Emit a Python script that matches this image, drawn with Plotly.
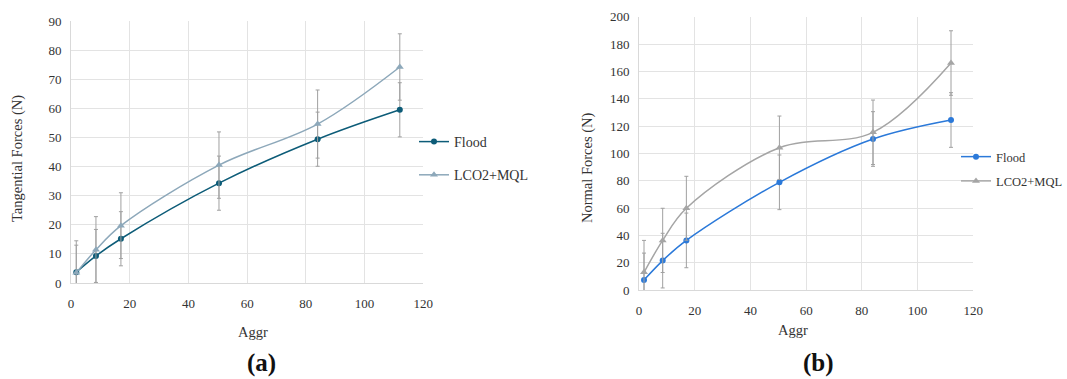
import plotly.graph_objects as go

# ---- data ----
aggr = [1.8, 8.5, 17, 50.4, 84, 112]

tan_flood = [3.7, 9.3, 15.2, 34.3, 49.4, 59.5]
tan_flood_err = [9.3, 9.1, 9.3, 9.3, 9.3, 9.3]
tan_lco2 = [3.5, 11.4, 19.7, 40.5, 54.6, 74.2]
tan_lco2_err = [11.0, 11.4, 11.3, 11.4, 11.7, 11.4]

nor_flood = [7.3, 21.5, 36.3, 78.8, 110.5, 124.4]
nor_flood_err = [19.7, 20.0, 20.0, 20.0, 20.0, 20.0]
nor_lco2 = [12.9, 36.3, 59.8, 104.1, 115.4, 166.1]
nor_lco2_err = [23.4, 23.5, 23.4, 23.2, 23.6, 23.6]

x_ticks = [0, 20, 40, 60, 80, 100, 120]

FONT = "Liberation Serif, DejaVu Serif, serif"
W, H = 1067, 379

c_flood_a = "#0D5C78"
c_lco2_a = "#8DA8BA"
c_flood_b = "#2B79D9"
c_lco2_b = "#A5A5A5"
c_err = "#A0A0A0"
c_grid = "#E3E3E3"

fig = go.Figure()

def add(x, y, err, color, symbol, size, name, xa, ya, legend):
    fig.add_trace(go.Scatter(
        x=x, y=y, name=name, mode="lines+markers",
        line=dict(color=color, width=1.5, shape="spline", smoothing=1.0),
        marker=dict(color=color, symbol=symbol, size=size),
        error_y=dict(type="data", array=err, visible=True, color=c_err,
                     thickness=1, width=2),
        xaxis=xa, yaxis=ya, legend=legend, legendgroup=name + legend,
        cliponaxis=True,
    ))

add(aggr, tan_flood, tan_flood_err, c_flood_a, "circle", 6, "Flood", "x", "y", "legend")
add(aggr, tan_lco2, tan_lco2_err, c_lco2_a, "triangle-up", 7, "LCO2+MQL", "x", "y", "legend")
add(aggr, nor_flood, nor_flood_err, c_flood_b, "circle", 6, "Flood", "x2", "y2", "legend2")
add(aggr, nor_lco2, nor_lco2_err, c_lco2_b, "triangle-up", 7, "LCO2+MQL", "x2", "y2", "legend2")

def px_x(p):
    return p / W

def px_y(p):
    return 1 - p / H

axis_common = dict(
    showgrid=True, gridcolor=c_grid, gridwidth=1,
    showline=True, linecolor="#D9D9D9", linewidth=1,
    zeroline=False, ticks="", tickfont=dict(family=FONT, size=13, color="#333333"),
    fixedrange=True, automargin=False,
)

fig.update_layout(
    width=W, height=H,
    margin=dict(l=0, r=0, t=0, b=0, autoexpand=False),
    paper_bgcolor="white", plot_bgcolor="white",
    font=dict(family=FONT, color="#333333"),
    xaxis=dict(domain=[px_x(71), px_x(423.3)], range=[0, 120], tickvals=x_ticks,
               anchor="y", ticklabelstandoff=8, **axis_common),
    yaxis=dict(domain=[px_y(283), px_y(21)], range=[0, 90], dtick=10,
               anchor="x", ticklabelstandoff=6, **axis_common),
    xaxis2=dict(domain=[px_x(639), px_x(973.3)], range=[0, 120], tickvals=x_ticks,
                anchor="y2", ticklabelstandoff=8, **axis_common),
    yaxis2=dict(domain=[px_y(290), px_y(16.7)], range=[0, 200], dtick=20,
                anchor="x2", ticklabelstandoff=6, **axis_common),
    legend=dict(x=px_x(414), y=px_y(126), xanchor="left", yanchor="top",
                font=dict(family=FONT, size=14, color="#333333"),
                tracegroupgap=12, itemwidth=30, bgcolor="rgba(0,0,0,0)"),
    legend2=dict(x=px_x(956), y=px_y(142), xanchor="left", yanchor="top",
                 font=dict(family=FONT, size=12.5, color="#333333"),
                 tracegroupgap=5, itemwidth=30, bgcolor="rgba(0,0,0,0)"),
)

ann = dict(xref="paper", yref="paper", showarrow=False, xanchor="center", yanchor="middle")
fig.add_annotation(text="Tangential Forces (N)", x=px_x(17), y=px_y(159), textangle=-90,
                   font=dict(family=FONT, size=14.5, color="#333333"), **ann)
fig.add_annotation(text="Normal Forces (N)", x=px_x(587), y=px_y(168), textangle=-90,
                   font=dict(family=FONT, size=14.5, color="#333333"), **ann)
fig.add_annotation(text="Aggr", x=px_x(253), y=px_y(332),
                   font=dict(family=FONT, size=14.5, color="#333333"), **ann)
fig.add_annotation(text="Aggr", x=px_x(793), y=px_y(330),
                   font=dict(family=FONT, size=14.5, color="#333333"), **ann)
fig.add_annotation(text="<b>(a)</b>", x=px_x(261), y=px_y(363),
                   font=dict(family=FONT, size=25, color="#111111"), **ann)
fig.add_annotation(text="<b>(b)</b>", x=px_x(818), y=px_y(363),
                   font=dict(family=FONT, size=25, color="#111111"), **ann)

fig.write_html("out.html")
